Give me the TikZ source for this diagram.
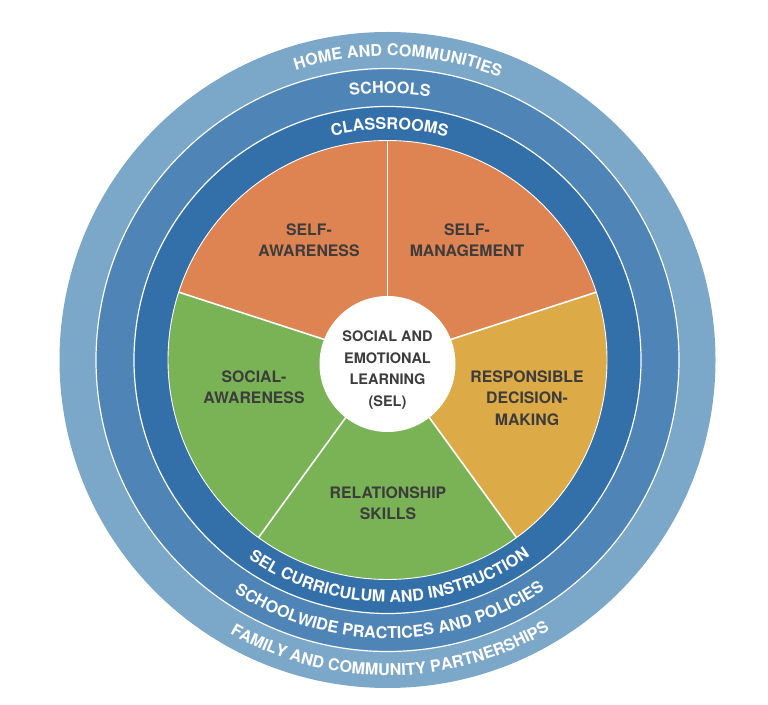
\documentclass[tikz,border=0pt]{standalone}
\usepackage{fontspec}
\setmainfont{TeX Gyre Heros}
\usetikzlibrary{decorations.text,calc}
\definecolor{ringA}{HTML}{7BA7C9}
\definecolor{ringB}{HTML}{4E85B6}
\definecolor{ringC}{HTML}{336FA8}
\definecolor{secOr}{HTML}{DE8352}
\definecolor{secYe}{HTML}{DCAA47}
\definecolor{secGr}{HTML}{7AB356}
\definecolor{txtDk}{HTML}{3C3C3C}
\newcommand\ringfont{\fontsize{16.2}{19}\selectfont\bfseries}
\begin{document}
\begin{tikzpicture}[x=1pt,y=1pt,
  seclabel/.style={font=\fontsize{15.8}{21.5}\selectfont\bfseries, text=txtDk, align=center, inner sep=0pt},
  corelabel/.style={font=\fontsize{14.5}{21.7}\selectfont\bfseries, text=txtDk, align=center, inner sep=0pt},
  sepline/.style={white, line width=1.2pt},
  divider/.style={white, line width=1.6pt},
  toptext/.style={decorate, decoration={text along path, text align=center, text={|\ringfont\color{white}|#1}}},
  bottext/.style={decorate, decoration={text along path, text align=center, text={|\ringfont\color{white}|#1}}}
]
\useasboundingbox (0,0) rectangle (768,704);
\coordinate (C) at (387.5,344);
% rings
\fill[ringA] (C) circle[radius=328];
\fill[ringB] (C) circle[radius=291.5];
\fill[ringC] (C) circle[radius=253.5];
\draw[sepline] (C) circle[radius=291.5];
\draw[sepline] (C) circle[radius=253.5];
% sectors
\fill[secOr] (C) -- ++(90:219.5) arc[start angle=90, end angle=162, radius=219.5] -- cycle;
\fill[secOr] (C) -- ++(18:219.5) arc[start angle=18, end angle=90, radius=219.5] -- cycle;
\fill[secYe] (C) -- ++(-54:219.5) arc[start angle=-54, end angle=18, radius=219.5] -- cycle;
\fill[secGr] (C) -- ++(234:219.5) arc[start angle=234, end angle=306, radius=219.5] -- cycle;
\fill[secGr] (C) -- ++(162:219.5) arc[start angle=162, end angle=234, radius=219.5] -- cycle;
\draw[white, line width=0.9pt] (C) circle[radius=219.5];
\foreach \a in {18,90,162,234,306} \draw[divider] (C) -- ++(\a:219.5);
% centre
\node[circle, fill=white, minimum size=136pt, inner sep=0pt] (core) at (387.5,340) {};
\node[corelabel] (sel) at (387.5,334) {SOCIAL AND\\EMOTIONAL\\LEARNING\\(SEL)};
% sector labels
\node[seclabel] (sa) at (309,464) {SELF-\\AWARENESS};
\node[seclabel] (sm) at (467,464) {SELF-\\MANAGEMENT};
\node[seclabel] (soa) at (254,317) {SOCIAL-\\AWARENESS};
\node[seclabel] (rdm) at (527,306) {RESPONSIBLE\\DECISION-\\MAKING};
\node[seclabel] (rs) at (388,201) {RELATIONSHIP\\SKILLS};
% ring labels, top
\path[toptext={HOME AND COMMUNITIES}] ($(C)+(148:304)$) arc[start angle=148, end angle=28, radius=304];
\path[toptext={SCHOOLS}] ($(C)+(149.5:266.7)$) arc[start angle=149.5, end angle=29.5, radius=266.7];
\path[toptext={CLASSROOMS}] ($(C)+(149.5:230.7)$) arc[start angle=149.5, end angle=29.5, radius=230.7];
% ring labels, bottom
\path[bottext={FAMILY AND COMMUNITY PARTNERSHIPS}] ($(C)+(205.5:315.5)$) arc[start angle=205.5, end angle=335.5, radius=315.5];
\path[bottext={SCHOOLWIDE PRACTICES AND POLICIES}] ($(C)+(205.5:278.3)$) arc[start angle=205.5, end angle=335.5, radius=278.3];
\path[bottext={SEL CURRICULUM AND INSTRUCTION}] ($(C)+(205.5:242.3)$) arc[start angle=205.5, end angle=335.5, radius=242.3];
\end{tikzpicture}
\end{document}
